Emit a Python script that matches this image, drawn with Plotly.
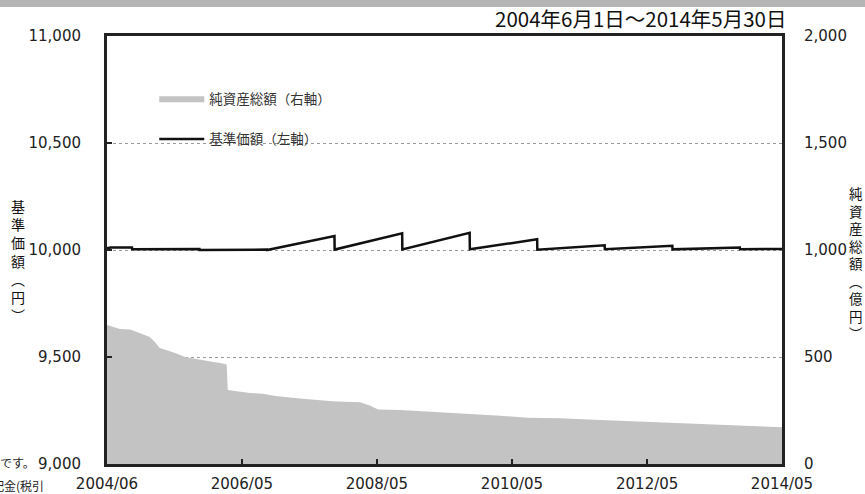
import plotly.graph_objects as go

# 基準価額 (円, 左軸)
nav_dates = ["2004-06-01", "2004-06-20", "2004-10-14", "2004-10-15", "2005-10-14", "2005-10-15",
             "2006-10-14", "2006-10-15", "2007-10-14", "2007-10-15", "2008-10-14", "2008-10-15",
             "2009-10-14", "2009-10-15", "2010-10-14", "2010-10-15", "2011-10-14", "2011-10-15",
             "2012-10-14", "2012-10-15", "2013-10-14", "2013-10-15", "2014-05-30"]
nav_values = [10008, 10012, 10012, 10003, 10005, 10000,
              10002, 10000, 10065, 10002, 10078, 10003,
              10080, 10003, 10050, 10001, 10022, 10004,
              10020, 10003, 10012, 10004, 10005]

# 純資産総額 (億円, 右軸)
aum_dates = ["2004-06-01", "2004-07-06", "2004-08-10", "2004-10-05", "2004-11-28", "2005-01-19",
             "2005-02-15", "2005-03-13", "2005-04-25", "2005-06-04", "2005-07-28", "2005-10-16",
             "2005-12-21", "2006-02-03", "2006-03-10", "2006-03-16", "2006-07-13", "2006-09-22",
             "2006-11-28", "2007-04-10", "2007-07-28", "2007-10-01", "2007-12-10", "2008-03-01",
             "2008-04-25", "2008-06-06", "2008-10-04", "2009-03-13", "2009-10-01", "2010-03-28",
             "2010-08-22", "2011-02-15", "2011-09-20", "2012-04-25", "2012-10-20", "2013-05-07",
             "2013-10-16", "2014-05-30"]
aum_values = [650, 640, 631, 628, 612, 593,
              570, 542, 530, 519, 500, 486,
              478, 472, 465, 346, 332, 328,
              318, 306, 297, 293, 291, 288,
              272, 255, 252, 245, 236, 226,
              216, 214, 206, 198, 192, 184,
              180, 172]

x_tickvals = ["2004-06-01", "2006-05-31", "2008-05-30", "2010-05-31", "2012-05-31", "2014-05-30"]
x_ticktext = ["2004/06", "2006/05", "2008/05", "2010/05", "2012/05", "2014/05"]
left_tickvals = [9000, 9500, 10000, 10500, 11000]
left_ticktext = ["9,000", "9,500", "10,000", "10,500", "11,000"]
right_tickvals = [0, 500, 1000, 1500, 2000]
right_ticktext = ["0", "500", "1,000", "1,500", "2,000"]

TICKFONT = dict(family="DejaVu Sans", size=15, color="#222")
JP = "Noto Sans CJK JP"

fig = go.Figure()
fig.add_trace(go.Scatter(
    x=aum_dates, y=aum_values, name="純資産総額（右軸）", mode="lines",
    fill="tozeroy", fillcolor="#c3c3c3", line=dict(width=0, color="#c3c3c3"),
    legendgroup="a", yaxis="y"))
fig.add_trace(go.Scatter(
    x=nav_dates, y=nav_values, name="基準価額（左軸）", mode="lines",
    line=dict(width=2.5, color="#111"), legendgroup="b", yaxis="y2"))

fig.update_layout(
    width=865, height=494,
    margin=dict(l=107, r=83, t=36, b=30),
    paper_bgcolor="white", plot_bgcolor="white",
    showlegend=True,
    legend=dict(x=0.07, y=0.89, xanchor="left", yanchor="top",
                bgcolor="rgba(0,0,0,0)", traceorder="grouped", tracegroupgap=20,
                itemwidth=45, font=dict(family=JP, size=13.5, color="#333")),
    xaxis=dict(type="date", range=["2004-06-01", "2014-05-30"], automargin=False,
               tickvals=x_tickvals, ticktext=x_ticktext, tickfont=TICKFONT,
               ticks="inside", ticklen=5, tickwidth=2, tickcolor="#222",
               showline=True, linewidth=3, linecolor="#222", mirror=True,
               showgrid=False, zeroline=False, ticklabelstandoff=4),
    yaxis=dict(range=[0, 2000], side="right", automargin=False,
               tickvals=right_tickvals, ticktext=right_ticktext,
               tickfont=TICKFONT, showline=True, linewidth=3, linecolor="#222",
               ticks="", showgrid=True, gridcolor="#9a9a9a", griddash="dot", gridwidth=1,
               zeroline=False, ticklabelstandoff=16),
    yaxis2=dict(range=[9000, 11000], side="left", overlaying="y", automargin=False,
                tickvals=left_tickvals, ticktext=left_ticktext, tickfont=TICKFONT,
                showline=True, linewidth=3, linecolor="#222",
                ticks="inside", ticklen=5, tickwidth=2, tickcolor="#222",
                showgrid=False, zeroline=False, ticklabelstandoff=20),
)

# gray band at the very top of the image
fig.add_shape(type="rect", xref="paper", yref="paper", x0=-0.2, x1=1.2,
              y0=1 + (36 - 7) / 428, y1=1 + 36 / 428 + 0.01,
              fillcolor="#b5b5b5", line=dict(width=0), layer="above")
# white area behind the legend (hides the gridline there)
fig.add_shape(type="rect", xref="paper", yref="paper", x0=0.005, x1=(360 - 107) / 675,
              y0=(464 - 165) / 428, y1=(464 - 75) / 428,
              fillcolor="white", line=dict(width=0), layer="between")

fig.add_annotation(text="2004年6月1日～2014年5月30日", xref="paper", yref="paper",
                   x=(788 - 107) / 675, y=1 + (36 - 18) / 428, xanchor="right", yanchor="middle",
                   showarrow=False, font=dict(family=JP, size=20.5, color="#111"))
fig.add_annotation(text="<br>".join(list("基準価額") + ["︵", "円", "︶"]), xref="paper", yref="paper",
                   x=(18 - 107) / 675, y=(464 - 260) / 428, xanchor="center", yanchor="middle",
                   showarrow=False, font=dict(family=JP, size=14, color="#111"))
fig.add_annotation(text="<br>".join(list("純資産総額") + ["︵", "億", "円", "︶"]), xref="paper", yref="paper",
                   x=(856 - 107) / 675, y=(464 - 263) / 428, xanchor="center", yanchor="middle",
                   showarrow=False, font=dict(family=JP, size=13.5, color="#111"))
fig.add_annotation(text="です。", xref="paper", yref="paper",
                   x=(37 - 107) / 675, y=(464 - 462) / 428, xanchor="right", yanchor="middle",
                   showarrow=False, font=dict(family=JP, size=12, color="#222"))
fig.add_annotation(text="分配金(税引", xref="paper", yref="paper",
                   x=(46 - 107) / 675, y=(464 - 485) / 428, xanchor="right", yanchor="middle",
                   showarrow=False, font=dict(family=JP, size=12, color="#222"))

fig.write_html("out.html", config={"displayModeBar": False},
               post_script="document.body.style.margin='0';document.body.style.overflow='hidden';")
